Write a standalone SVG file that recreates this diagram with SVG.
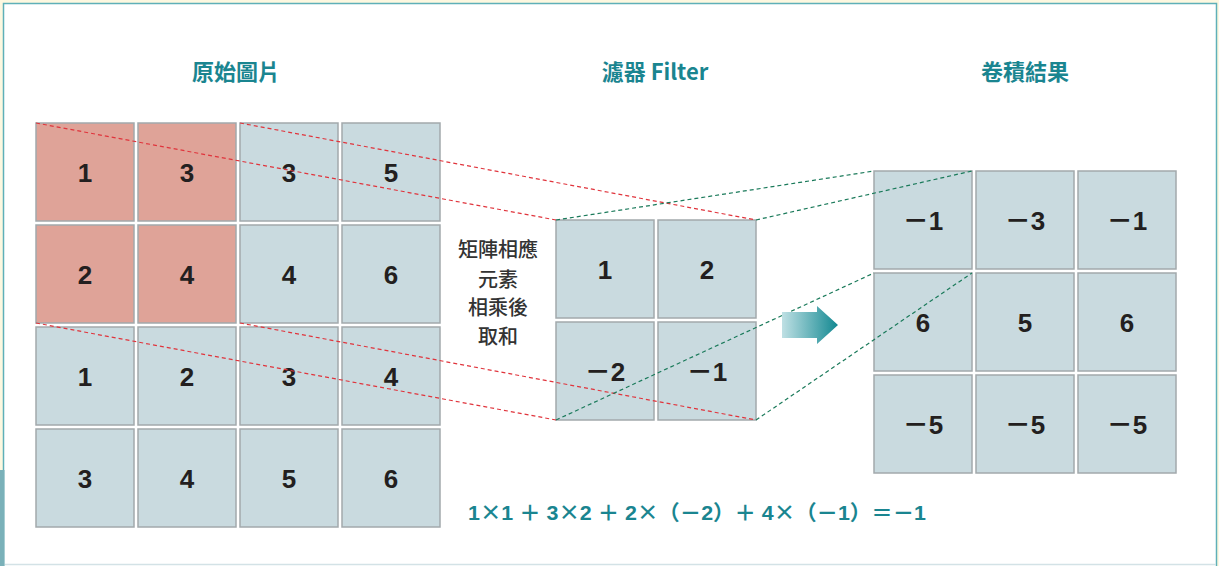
<svg xmlns="http://www.w3.org/2000/svg" width="1219" height="566" viewBox="0 0 1219 566">
<defs>
<style>
.c{fill:#c9dadf;stroke:#a2a9ac;stroke-width:1.5}
.r{fill:#dfa398;stroke:#a2a9ac;stroke-width:1.5}
.n{font-family:"Liberation Sans",Arial,sans-serif;font-weight:bold;font-size:26px;fill:#231f20;text-anchor:middle}
.m{font-family:"Noto Sans CJK TC",sans-serif;font-weight:bold}
.t{font-family:"Noto Sans CJK TC","Liberation Sans",sans-serif;font-weight:bold;font-size:22px;fill:#1a8590;text-anchor:middle}
.s{font-family:"Noto Sans CJK TC",sans-serif;font-weight:500;font-size:20px;fill:#333333;text-anchor:middle}
.rd{stroke:#e0343c;stroke-width:1.2;stroke-dasharray:4 3;fill:none}
.gd{stroke:#1a7a5a;stroke-width:1.2;stroke-dasharray:4 3;fill:none}
</style>
<linearGradient id="ag" x1="0" y1="0" x2="1" y2="0">
<stop offset="0" stop-color="#bfe0e4"/>
<stop offset="1" stop-color="#128891"/>
</linearGradient>
</defs>
<rect x="0" y="0" width="1219" height="566" fill="#fdf8e0"/>
<rect x="3.5" y="3.5" width="1213" height="570" fill="#ffffff" stroke="#5fb0b8" stroke-width="1.5"/>
<line x1="4" y1="564.5" x2="1216" y2="564.5" stroke="#d3e2e6" stroke-width="1.5"/>
<rect x="0" y="470" width="4.5" height="96" fill="#7ab1b9"/>

<g id="titles">
<text class="t" x="236" y="80">原始圖片</text>
<text class="t" x="655" y="80">濾器 Filter</text>
<text class="t" x="1025" y="80">卷積結果</text>
</g>

<g id="input">
<rect class="r" x="36" y="123" width="98" height="98"/><text class="n" x="85" y="182">1</text>
<rect class="r" x="138" y="123" width="98" height="98"/><text class="n" x="187" y="182">3</text>
<rect class="c" x="240" y="123" width="98" height="98"/><text class="n" x="289" y="182">3</text>
<rect class="c" x="342" y="123" width="98" height="98"/><text class="n" x="391" y="182">5</text>
<rect class="r" x="36" y="225" width="98" height="98"/><text class="n" x="85" y="284">2</text>
<rect class="r" x="138" y="225" width="98" height="98"/><text class="n" x="187" y="284">4</text>
<rect class="c" x="240" y="225" width="98" height="98"/><text class="n" x="289" y="284">4</text>
<rect class="c" x="342" y="225" width="98" height="98"/><text class="n" x="391" y="284">6</text>
<rect class="c" x="36" y="327" width="98" height="98"/><text class="n" x="85" y="386">1</text>
<rect class="c" x="138" y="327" width="98" height="98"/><text class="n" x="187" y="386">2</text>
<rect class="c" x="240" y="327" width="98" height="98"/><text class="n" x="289" y="386">3</text>
<rect class="c" x="342" y="327" width="98" height="98"/><text class="n" x="391" y="386">4</text>
<rect class="c" x="36" y="429" width="98" height="98"/><text class="n" x="85" y="488">3</text>
<rect class="c" x="138" y="429" width="98" height="98"/><text class="n" x="187" y="488">4</text>
<rect class="c" x="240" y="429" width="98" height="98"/><text class="n" x="289" y="488">5</text>
<rect class="c" x="342" y="429" width="98" height="98"/><text class="n" x="391" y="488">6</text>
</g>

<g id="filter">
<rect class="c" x="556" y="220" width="98" height="98"/><text class="n" x="605" y="279">1</text>
<rect class="c" x="658" y="220" width="98" height="98"/><text class="n" x="707" y="279">2</text>
<rect class="c" x="556" y="322" width="98" height="98"/><text class="n" x="605" y="381"><tspan class="m">－</tspan>2</text>
<rect class="c" x="658" y="322" width="98" height="98"/><text class="n" x="707" y="381"><tspan class="m">－</tspan>1</text>
</g>

<g id="label">
<text class="s" x="498" y="257">矩陣相應</text>
<text class="s" x="498" y="287">元素</text>
<text class="s" x="498" y="315">相乘後</text>
<text class="s" x="498" y="344">取和</text>
</g>

<g id="output">
<rect class="c" x="874" y="171" width="98" height="98"/><text class="n" x="923" y="230"><tspan class="m">－</tspan>1</text>
<rect class="c" x="976" y="171" width="98" height="98"/><text class="n" x="1025" y="230"><tspan class="m">－</tspan>3</text>
<rect class="c" x="1078" y="171" width="98" height="98"/><text class="n" x="1127" y="230"><tspan class="m">－</tspan>1</text>
<rect class="c" x="874" y="273" width="98" height="98"/><text class="n" x="923" y="332">6</text>
<rect class="c" x="976" y="273" width="98" height="98"/><text class="n" x="1025" y="332">5</text>
<rect class="c" x="1078" y="273" width="98" height="98"/><text class="n" x="1127" y="332">6</text>
<rect class="c" x="874" y="375" width="98" height="98"/><text class="n" x="923" y="434"><tspan class="m">－</tspan>5</text>
<rect class="c" x="976" y="375" width="98" height="98"/><text class="n" x="1025" y="434"><tspan class="m">－</tspan>5</text>
<rect class="c" x="1078" y="375" width="98" height="98"/><text class="n" x="1127" y="434"><tspan class="m">－</tspan>5</text>
</g>

<g id="connectors">
<line class="rd" x1="36" y1="123" x2="556" y2="220"/>
<line class="rd" x1="240" y1="123" x2="756" y2="220"/>
<line class="rd" x1="36" y1="323" x2="556" y2="420"/>
<line class="rd" x1="240" y1="323" x2="756" y2="420"/>
<line class="gd" x1="556" y1="220" x2="874" y2="171"/>
<line class="gd" x1="756" y1="220" x2="972" y2="171"/>
<line class="gd" x1="556" y1="420" x2="874" y2="273"/>
<line class="gd" x1="756" y1="420" x2="972" y2="273"/>
</g>

<g id="arrow">
<polygon points="782,312 817,312 817,306 838,325 817,344 817,338 782,338" fill="url(#ag)"/>
</g>

<g id="formula">
<text x="468" y="520" textLength="458" lengthAdjust="spacingAndGlyphs" style="font-family:'Liberation Sans','Noto Sans CJK TC',sans-serif;font-weight:bold;font-size:21px;fill:#1a8590">1<tspan class="m">×</tspan>1 ＋ 3<tspan class="m">×</tspan>2 ＋ 2<tspan class="m">×</tspan>（－2）＋ 4<tspan class="m">×</tspan>（－1）＝－1</text>
</g>
</svg>
